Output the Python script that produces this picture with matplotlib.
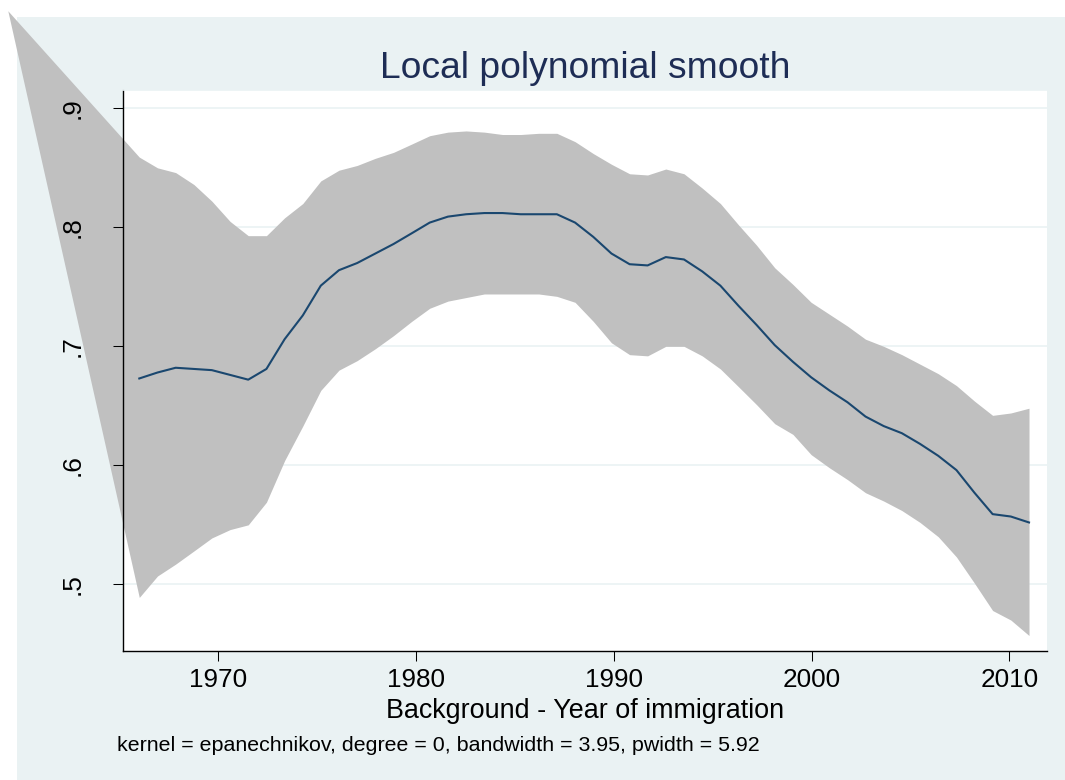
import matplotlib
matplotlib.use("Agg")
import matplotlib.pyplot as plt
from matplotlib.patches import Rectangle

plt.rcParams['font.family'] = ['Liberation Sans', 'DejaVu Sans']

# lpoly grid (50 points, 1966-2011)
years = [1966.00, 1966.92, 1967.84, 1968.76, 1969.67, 1970.59, 1971.51, 1972.43,
         1973.35, 1974.27, 1975.18, 1976.10, 1977.02, 1977.94, 1978.86, 1979.78,
         1980.69, 1981.61, 1982.53, 1983.45, 1984.37, 1985.29, 1986.20, 1987.12,
         1988.04, 1988.96, 1989.88, 1990.80, 1991.71, 1992.63, 1993.55, 1994.47,
         1995.39, 1996.31, 1997.22, 1998.14, 1999.06, 1999.98, 2000.90, 2001.82,
         2002.73, 2003.65, 2004.57, 2005.49, 2006.41, 2007.33, 2008.24, 2009.16,
         2010.08, 2011.00]

smooth = [.673, .678, .682, .681, .680, .676, .672, .681, .706, .726,
          .751, .764, .770, .778, .786, .795, .804, .809, .811, .812,
          .812, .811, .811, .811, .804, .792, .778, .769, .768, .775,
          .773, .763, .751, .734, .718, .701, .687, .674, .663, .653,
          .641, .633, .627, .618, .608, .596, .577, .559, .557, .552]

# confidence band; the first point sits far outside the plot region
ci_years = [1959.35] + years
ci_hi = [.982,
         .859, .850, .846, .836, .822, .805, .793, .793, .808, .820,
         .839, .848, .852, .858, .863, .870, .877, .880, .881, .880,
         .878, .878, .879, .879, .872, .862, .853, .845, .844, .849,
         .845, .833, .820, .802, .785, .766, .752, .737, .727, .717,
         .706, .700, .693, .685, .677, .667, .654, .642, .644, .648]
ci_lo = [.982,
         .489, .507, .517, .528, .539, .546, .550, .569, .604, .633,
         .663, .680, .688, .698, .709, .721, .732, .738, .741, .744,
         .744, .744, .744, .742, .737, .721, .703, .693, .692, .700,
         .700, .692, .681, .666, .651, .635, .626, .609, .598, .588,
         .577, .570, .562, .552, .540, .523, .501, .478, .470, .457]

yticks = [.5, .6, .7, .8, .9]
ytick_labels = ['.5', '.6', '.7', '.8', '.9']
xticks = [1970, 1980, 1990, 2000, 2010]

bg = '#eaf2f3'
navy = '#1a476f'
title_col = '#1e2d55'

fig = plt.figure(figsize=(10.65, 7.8), dpi=100)
fig.patch.set_facecolor('white')
fig.add_artist(Rectangle((17 / 1065, 0), 1 - 17 / 1065, 1 - 17 / 780,
                         transform=fig.transFigure, facecolor=bg,
                         edgecolor='none', zorder=-1))

ax = fig.add_axes([0.1152, 0.1654, 0.8679, 0.7186])
ax.set_facecolor('white')

for v in yticks:
    ax.axhline(v, color=bg, lw=1.2, zorder=0.5)

ax.fill_between(ci_years, ci_lo, ci_hi, color='#c0c0c0', lw=0,
                zorder=1, clip_on=False)
ax.plot(years, smooth, color=navy, lw=1.5, zorder=3)

ax.set_xlim(1965.16, 2011.91)
ax.set_ylim(0.444, 0.915)
ax.set_xticks(xticks)
ax.set_yticks(yticks)
ax.set_yticklabels(ytick_labels)

ax.tick_params(axis='both', length=7.2, width=0.75, color='black',
               labelsize=18.8)
ax.tick_params(axis='x', pad=5)
ax.tick_params(axis='y', pad=20, labelrotation=90)
for lab in ax.get_yticklabels():
    lab.set_va('center')

ax.spines['right'].set_visible(False)
ax.spines['top'].set_color(bg)
ax.spines['top'].set_linewidth(1.2)
for s in ['left', 'bottom']:
    ax.spines[s].set_color('black')
    ax.spines[s].set_linewidth(1.0)

fig.text(0.5493, 1 - 77.5 / 780, 'Local polynomial smooth', ha='center',
         va='baseline', fontsize=26.8, color=title_col)
fig.text(0.5493, 1 - 718 / 780, 'Background - Year of immigration',
         ha='center', va='baseline', fontsize=19.4)
fig.text(117 / 1065, 1 - 751 / 780,
         'kernel = epanechnikov, degree = 0, bandwidth = 3.95, pwidth = 5.92',
         ha='left', va='baseline', fontsize=15.4)

fig.savefig('out.png', dpi=100)
